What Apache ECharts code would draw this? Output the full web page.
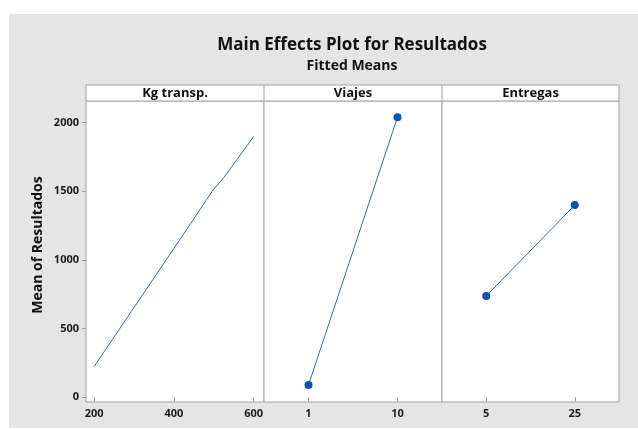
<!DOCTYPE html>
<html><head><meta charset="utf-8">
<script src="https://cdn.jsdelivr.net/npm/echarts@6/dist/echarts.min.js"></script>
<style>html,body{margin:0;padding:0;background:#fff}#c{width:638px;height:430px}</style>
</head><body><div id="c"></div>
<script>
// ---- data ----
const kgLevels = [200, 250, 300, 350, 400, 450, 480, 500, 525, 550, 575, 600];
const kgMeans = [225, 440, 655, 870, 1085, 1300, 1432, 1517, 1600, 1700, 1800, 1900];
const viajesLevels = ['1', '10'];
const viajesMeans = [90, 2040];
const entregasLevels = ['5', '25'];
const entregasMeans = [738, 1400];
const yTicks = [0, 500, 1000, 1500, 2000];
const kgTicks = [200, 400, 600];
const panelTitles = ['Kg transp.', 'Viajes', 'Entregas'];
const chartTitle = 'Main Effects Plot for Resultados';
const chartSubtitle = 'Fitted Means';
const yAxisTitle = 'Mean of Resultados';

// ---- layout ----
const FONT = '"Open Sans", sans-serif';
const panelLeft = [86, 264, 442];
const panelWidth = [178, 178, 177];
const plotTop = 101, plotHeight = 301, headerTop = 85;
const yMin = -34, yMax = 2158;
const lineColor = '#2e6fc0', dotColor = '#0b55a8', borderColor = '#a3a3a3';

const chart = echarts.init(document.getElementById('c'), null, {renderer: 'canvas'});

const grids = panelLeft.map((l, i) => ({
  left: l, top: plotTop, width: panelWidth[i], height: plotHeight,
  show: true, backgroundColor: '#ffffff', borderColor: borderColor, borderWidth: 1
}));

const tickStyle = {show: true, length: 4, inside: false, lineStyle: {color: '#9a9a9a', width: 1}};
const labelStyle = {color: '#1a1a1a', fontFamily: FONT, fontSize: 11, fontWeight: 'bold',
  formatter: v => String(v)};

const xAxes = [
  {gridIndex: 0, type: 'value', min: 179.4, max: 625.8,
   axisLine: {show: false}, splitLine: {show: false},
   axisTick: Object.assign({customValues: kgTicks}, tickStyle),
   axisLabel: Object.assign({customValues: kgTicks, margin: 6}, labelStyle)},
  {gridIndex: 1, type: 'category', data: viajesLevels, boundaryGap: true,
   axisLine: {show: false}, splitLine: {show: false},
   axisTick: Object.assign({alignWithLabel: true}, tickStyle),
   axisLabel: Object.assign({margin: 6}, labelStyle)},
  {gridIndex: 2, type: 'category', data: entregasLevels, boundaryGap: true,
   axisLine: {show: false}, splitLine: {show: false},
   axisTick: Object.assign({alignWithLabel: true}, tickStyle),
   axisLabel: Object.assign({margin: 6}, labelStyle)}
];

const yAxes = [0, 1, 2].map(i => ({
  gridIndex: i, type: 'value', min: yMin, max: yMax, show: i === 0,
  axisLine: {show: false}, splitLine: {show: false},
  axisTick: Object.assign({customValues: yTicks}, tickStyle),
  axisLabel: Object.assign({customValues: yTicks, margin: 7}, labelStyle)
}));

const graphics = [
  {type: 'rect', shape: {x: 9, y: 14, width: 629, height: 414}, style: {fill: '#e5e5e5'}, z: -10},
  {type: 'rect', shape: {x: 86, y: headerTop, width: 533, height: plotTop - headerTop},
   style: {fill: '#ffffff', stroke: borderColor, lineWidth: 1}, z: 10},
  {type: 'line', shape: {x1: 264, y1: headerTop, x2: 264, y2: plotTop}, style: {stroke: borderColor, lineWidth: 1}, z: 11},
  {type: 'line', shape: {x1: 442, y1: headerTop, x2: 442, y2: plotTop}, style: {stroke: borderColor, lineWidth: 1}, z: 11},
  {type: 'text', x: 352, y: 45, style: {text: chartTitle, fill: '#111', font: 'bold 17px ' + FONT, align: 'center', verticalAlign: 'middle'}, z: 12},
  {type: 'text', x: 352, y: 66, style: {text: chartSubtitle, fill: '#111', font: 'bold 14px ' + FONT, align: 'center', verticalAlign: 'middle'}, z: 12},
  {type: 'text', x: 38, y: 245, rotation: Math.PI / 2, style: {text: yAxisTitle, fill: '#111', font: 'bold 14px ' + FONT, align: 'center', verticalAlign: 'middle'}, z: 12}
];
panelTitles.forEach((t, i) => {
  graphics.push({type: 'text', x: panelLeft[i] + panelWidth[i] / 2, y: (headerTop + plotTop) / 2 + 0.5,
    style: {text: t, fill: '#111', font: 'bold 13px ' + FONT, align: 'center', verticalAlign: 'middle'}, z: 12});
});

const option = {
  backgroundColor: '#ffffff',
  animation: false,
  grid: grids,
  xAxis: xAxes,
  yAxis: yAxes,
  graphic: graphics,
  series: [
    {type: 'line', xAxisIndex: 0, yAxisIndex: 0, data: kgLevels.map((k, i) => [k, kgMeans[i]]),
     showSymbol: false, symbol: 'none', lineStyle: {color: lineColor, width: 1}},
    {type: 'line', xAxisIndex: 1, yAxisIndex: 1, data: viajesMeans,
     symbol: 'circle', symbolSize: 8, itemStyle: {color: dotColor}, lineStyle: {color: lineColor, width: 1}},
    {type: 'line', xAxisIndex: 2, yAxisIndex: 2, data: entregasMeans,
     symbol: 'circle', symbolSize: 8, itemStyle: {color: dotColor}, lineStyle: {color: lineColor, width: 1}}
  ]
};
chart.setOption(option);
</script></body></html>
